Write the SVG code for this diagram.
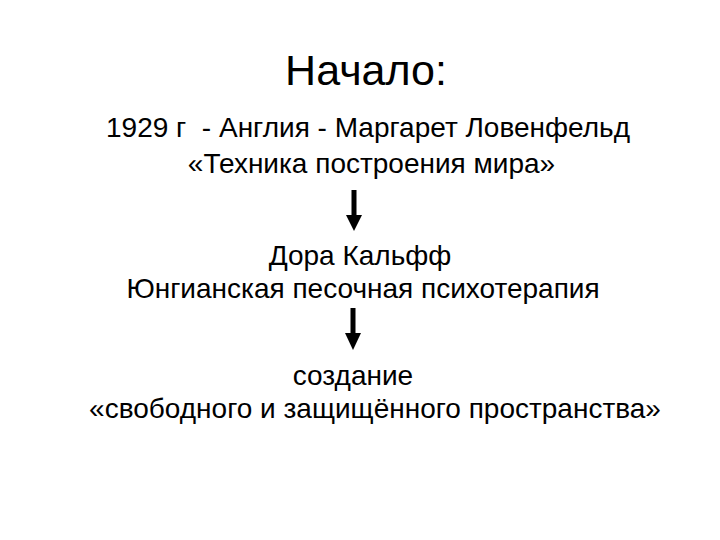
<svg xmlns="http://www.w3.org/2000/svg" width="720" height="540" viewBox="0 0 720 540">
<style>
text{font-family:"Liberation Sans",Arial,sans-serif;fill:#000}
.t{font-size:43px}
.b{font-size:28px}
</style>
<rect width="720" height="540" fill="#fff"/>
<g id="title"><text class="t" x="366" y="85" text-anchor="middle">Начало:</text></g>
<g id="node1">
<text class="b" x="368" y="137" text-anchor="middle" xml:space="preserve">1929 г  - Англия - Маргарет Ловенфельд</text>
<text class="b" x="371.5" y="173" text-anchor="middle">«Техника построения мира»</text>
</g>
<g id="node2">
<text class="b" x="360" y="265" text-anchor="middle">Дора Кальфф</text>
<text class="b" x="363" y="298" text-anchor="middle">Юнгианская песочная психотерапия</text>
</g>
<g id="node3">
<text class="b" x="353" y="385" text-anchor="middle">создание</text>
<text class="b" x="375" y="418" text-anchor="middle">«свободного и защищённого пространства»</text>
</g>
<g id="connectors">
<rect x="351.5" y="190" width="5" height="26"/>
<polygon points="346,215 362,215 354,231"/>
<rect x="350.5" y="308" width="5" height="26"/>
<polygon points="345,333 361,333 353,350"/>
</g>
</svg>
